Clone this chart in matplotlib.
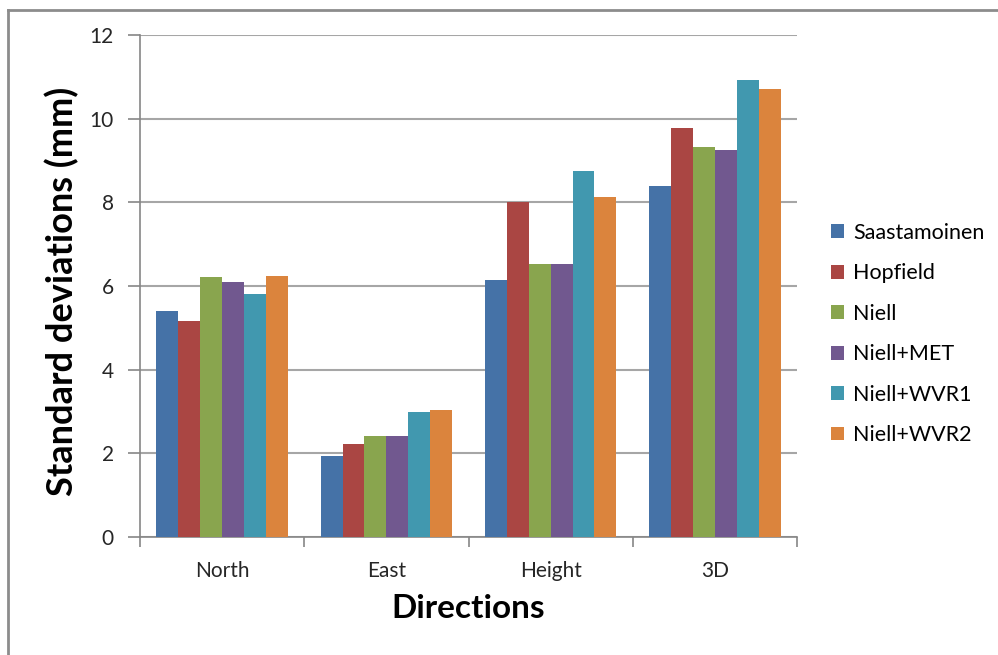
import numpy as np
import matplotlib
matplotlib.use('Agg')
import matplotlib.pyplot as plt
from matplotlib.lines import Line2D

plt.rcParams['font.family'] = ['Lato', 'DejaVu Sans']

directions = ['North', 'East', 'Height', '3D']
models = ['Saastamoinen', 'Hopfield', 'Niell', 'Niell+MET', 'Niell+WVR1', 'Niell+WVR2']

saastamoinen = [5.41, 1.93, 6.15, 8.40]
hopfield = [5.17, 2.22, 8.00, 9.78]
niell = [6.21, 2.42, 6.52, 9.32]
niell_met = [6.10, 2.42, 6.52, 9.26]
niell_wvr1 = [5.81, 2.98, 8.75, 10.92]
niell_wvr2 = [6.25, 3.03, 8.13, 10.71]

series = [saastamoinen, hopfield, niell, niell_met, niell_wvr1, niell_wvr2]
colors = ['#4572A7', '#AA4643', '#89A54E', '#71588F', '#4198AF', '#DB843D']

fig = plt.figure(figsize=(9.98, 6.55), dpi=100)
ax = fig.add_axes([0.1403, 0.1802, 0.6583, 0.7664])

# 6 bars per group with a gap of 1.5 bar widths
width = 1 / 7.5
x = np.arange(len(directions))
for i, (vals, name, c) in enumerate(zip(series, models, colors)):
    ax.bar(x + (i - 2.5) * width, vals, width, color=c, label=name, zorder=3)

ax.set_xlim(-0.5, len(directions) - 0.5)
ax.set_ylim(0, 12)
ax.set_yticks(range(0, 13, 2))
ax.set_xticks(x)
ax.set_xticklabels(directions)
ax.set_xticks(np.arange(-0.5, len(directions)), minor=True)
ax.tick_params(axis='x', which='major', length=0, pad=17, labelsize=15, labelcolor='#262626')
ax.tick_params(axis='x', which='minor', length=7, color='#868686', width=1.2)
ax.tick_params(axis='y', length=9, color='#868686', width=1.2, pad=10, labelsize=15, labelcolor='#262626')

ax.grid(axis='y', color='#a6a6a6', linewidth=1.5, zorder=0)
for side in ['top', 'right']:
    ax.spines[side].set_visible(False)
for side in ['left', 'bottom']:
    ax.spines[side].set_color('#868686')
    ax.spines[side].set_linewidth(1.2)

ax.set_ylabel('Standard deviations (mm)', fontsize=26, fontweight='bold', va='center')
ax.yaxis.set_label_coords(-0.1186, 0.49)
ax.set_xlabel('Directions', fontsize=24, fontweight='bold', labelpad=10)

ax.legend(loc='center left', bbox_to_anchor=(0.833, 0.49), bbox_transform=fig.transFigure,
          frameon=False, fontsize=15.5, handlelength=0.6, handleheight=0.6,
          handletextpad=0.4, labelspacing=0.95, borderpad=0, borderaxespad=0)

# outer chart frame
fig.add_artist(Line2D([8 / 998, 8 / 998], [0, 1 - 10 / 655], color='#8c8c8c', linewidth=2))
fig.add_artist(Line2D([8 / 998, 1], [1 - 10 / 655, 1 - 10 / 655], color='#8c8c8c', linewidth=2))

fig.savefig('out.png', dpi=100)
